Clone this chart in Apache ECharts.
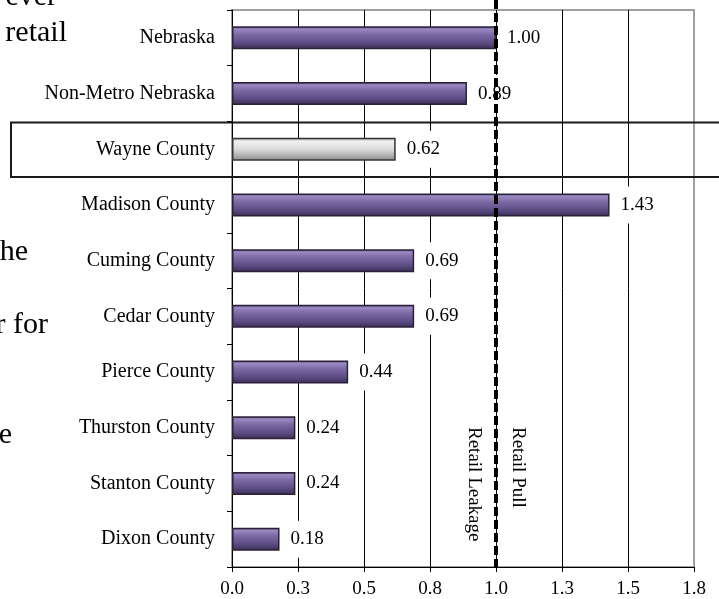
<!DOCTYPE html>
<html><head><meta charset="utf-8">
<script src="https://cdn.jsdelivr.net/npm/echarts@6/dist/echarts.min.js"></script>
<style>html,body{margin:0;padding:0;background:#fff}#c{width:719px;height:599px}</style>
</head><body><div id="c"></div>
<script>
// ---- data ----
const categories = ['Nebraska','Non-Metro Nebraska','Wayne County','Madison County','Cuming County','Cedar County','Pierce County','Thurston County','Stanton County','Dixon County'];
const values = [1.00, 0.89, 0.62, 1.43, 0.69, 0.69, 0.44, 0.24, 0.24, 0.18];
const highlightCategory = 'Wayne County';
const tickLabels = ['0.0','0.3','0.5','0.8','1.0','1.3','1.5','1.8'];
const referenceValue = 1.0;
const referenceTexts = ['Retail Leakage','Retail Pull'];
const pageTextFragments = ['ever','retail','he','r for','e'];

// ---- styles ----
const FONT = '"Liberation Serif","Times New Roman",serif';
const FS = 19;
const purpleStyle = {
  color: {type:'linear',x:0,y:0,x2:0,y2:1,colorStops:[
    {offset:0,color:'#4a3c6c'},{offset:0.12,color:'#9b8ac2'},{offset:0.35,color:'#7b6aa4'},
    {offset:0.7,color:'#5e4e86'},{offset:1,color:'#382d52'}]},
  borderColor:'#2a2238', borderWidth:1.5
};
const greyStyle = {
  color: {type:'linear',x:0,y:0,x2:0,y2:1,colorStops:[
    {offset:0,color:'#9a9a9a'},{offset:0.15,color:'#f2f2f2'},{offset:0.5,color:'#dadada'},
    {offset:1,color:'#8c8c8c'}]},
  borderColor:'#333', borderWidth:1.5
};

const chart = echarts.init(document.getElementById('c'));
chart.setOption({
  animation:false,
  grid:{left:232,right:25,top:10,bottom:31,show:true,borderColor:'#a0a0a0',borderWidth:2,backgroundColor:'transparent'},
  xAxis:{type:'value',min:0,max:1.75,interval:0.25,
    axisLine:{show:true,lineStyle:{color:'#000',width:1}},
    axisTick:{show:true,length:5,lineStyle:{color:'#000'}},
    axisLabel:{formatter:v=>tickLabels[Math.round(v/0.25)],color:'#000',fontFamily:FONT,fontSize:FS,margin:13},
    splitLine:{show:true,showMaxLine:false,showMinLine:false,lineStyle:{color:'#000',width:1}}},
  yAxis:{type:'category',data:categories,inverse:true,
    axisLine:{show:true,lineStyle:{color:'#000'}},
    axisTick:{show:true,length:5,lineStyle:{color:'#000'}},
    axisLabel:{color:'#000',fontFamily:FONT,fontSize:20,margin:17}},
  series:[{type:'bar',barWidth:23,
    data:values.map((v,i)=>({value:v,itemStyle:categories[i]===highlightCategory?greyStyle:purpleStyle})),
    label:{show:true,position:'right',distance:6,formatter:p=>p.value.toFixed(2),
      color:'#000',fontFamily:FONT,fontSize:FS,backgroundColor:'#fff',padding:[9,5]}}]
});

// ---- overlays positioned through the chart's own scales ----
const xRef = chart.convertToPixel({xAxisIndex:0}, referenceValue);
const y0 = chart.convertToPixel({yAxisIndex:0}, 0);
const y1 = chart.convertToPixel({yAxisIndex:0}, 1);
const band = y1 - y0;
const gridBottom = chart.convertToPixel({yAxisIndex:0}, categories.length-1) + band/2;
const hi = categories.indexOf(highlightCategory);
const yHi = chart.convertToPixel({yAxisIndex:0}, hi);

const fragY = [-3, 33, 252, 325, 435];
const fragX = [57, 67, 28, 48, 12];
const elements = [];
pageTextFragments.forEach((t,i)=>{
  elements.push({type:'text',x:fragX[i],y:fragY[i],z:50,
    style:{text:t,font:'30px '+FONT,fill:'#000',align:'right',verticalAlign:'middle',textAlign:'right',textVerticalAlign:'middle'}});
});
elements.push({type:'rect',z:60,shape:{x:11,y:yHi-band/2+1,width:760,height:band-1},
  style:{fill:null,stroke:'#1a1a1a',lineWidth:2}});
elements.push({type:'line',z:100,shape:{x1:xRef,y1:0,x2:xRef,y2:gridBottom},
  style:{stroke:'#000',lineWidth:4,lineDash:[9,4]}});
elements.push({type:'text',x:xRef-22,y:427,rotation:-Math.PI/2,z:90,
  style:{text:referenceTexts[0],font:FS+'px '+FONT,fill:'#000',align:'left',verticalAlign:'middle',textAlign:'left',textVerticalAlign:'middle'}});
elements.push({type:'text',x:xRef+22,y:427,rotation:-Math.PI/2,z:90,
  style:{text:referenceTexts[1],font:FS+'px '+FONT,fill:'#000',align:'left',verticalAlign:'middle',textAlign:'left',textVerticalAlign:'middle'}});
chart.setOption({graphic:{elements}});
</script></body></html>
